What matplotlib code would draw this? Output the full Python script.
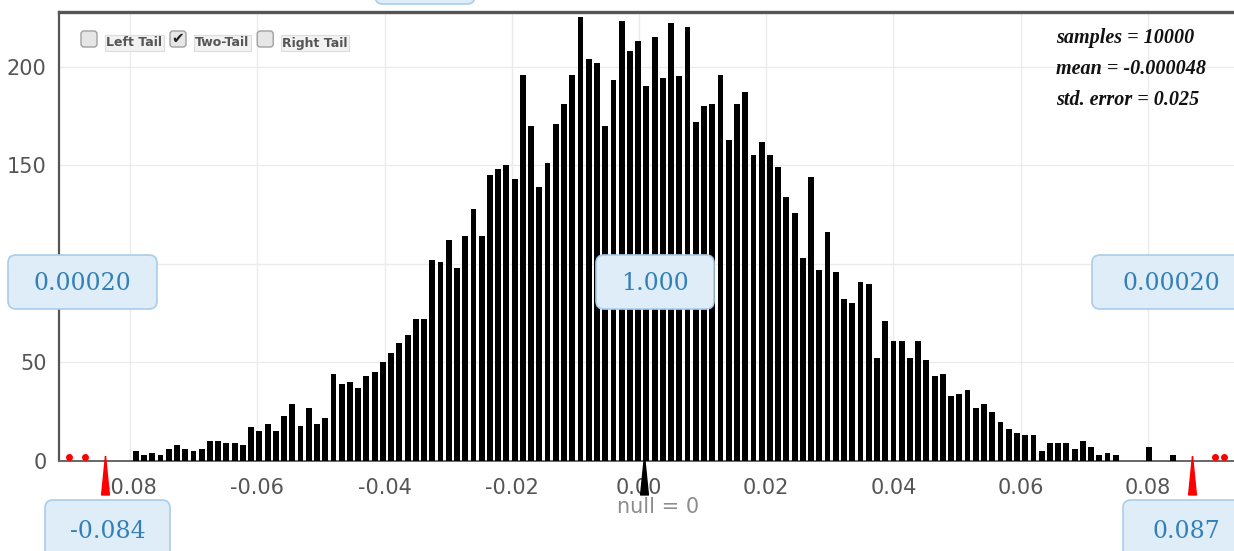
import numpy as np
import matplotlib.pyplot as plt
from matplotlib.patches import FancyBboxPatch
from matplotlib.transforms import IdentityTransform

# bar heights of the randomization dotplot (one bar per bin, left to right)
counts = [5, 3, 4, 3, 6, 8, 6, 5,
          6, 10, 10, 9, 9, 8, 17, 15, 19, 15,
          23, 29, 18, 27, 19, 22, 44, 39, 40, 37,
          43, 45, 50, 55, 60, 64, 72, 72, 102, 101,
          112, 98, 114, 128, 114, 145, 148, 150, 143, 196,
          170, 139, 151, 171, 181, 196, 225, 204, 202, 170,
          193, 223, 208, 213, 190, 215, 194, 222, 195, 220,
          172, 180, 181, 196, 163, 181, 187, 155, 162, 155,
          149, 134, 126, 103, 144, 97, 116, 96, 82, 80,
          91, 90, 52, 71, 61, 61, 52, 61, 51, 43,
          44, 33, 34, 36, 27, 29, 25, 20, 16, 14,
          13, 13, 5, 9, 9, 9, 6, 10, 7, 3,
          4, 3, 0, 0, 0, 7, 0, 0, 3]
bin_start = -0.07912
bin_width = 0.0012948

tail_x = [-0.0897, -0.0871, 0.0906, 0.0919]
tail_counts = [1, 1, 1, 1]
cutoffs = [-0.084, 0.087]
cutoff_labels = ['-0.084', '0.087']
null_value = 0.0008
prop_labels = ['0.00020', '1.000', '0.00020']
stats_lines = ['samples = 10000', 'mean = -0.000048', 'std. error = 0.025']
xticks = [-0.08, -0.06, -0.04, -0.02, 0.0, 0.02, 0.04, 0.06, 0.08]
xtick_labels = ['-0.08', '-0.06', '-0.04', '-0.02', '0.00', '0.02', '0.04', '0.06', '0.08']
yticks = [0, 50, 100, 150, 200]
tail_names = ['Left Tail', 'Two-Tail', 'Right Tail']
tail_checked = [False, True, False]

W, H = 1234, 551
fig = plt.figure(figsize=(W / 100, H / 100), dpi=100)
ax = fig.add_axes([59 / W, 1 - 461 / H, (W - 59) / W, (461 - 12) / H])

centers = bin_start + bin_width * np.arange(len(counts))
ax.bar(centers, counts, width=0.00092, color='black', zorder=3)
ax.scatter(tail_x, np.array(tail_counts) + 1, s=16, color='red', zorder=4, clip_on=False)

tri = [(0, 1), (-0.2, -1), (0.2, -1), (0, 1)]
ax.plot(cutoffs, [-7.2, -7.2], linestyle='none', marker=tri, markersize=28,
        color='red', clip_on=False, zorder=5)
ax.plot([null_value], [-7.2], linestyle='none', marker=tri, markersize=28,
        color='black', clip_on=False, zorder=5)

ax.set_xlim(-0.0912, 0.09355)
ax.set_ylim(0, 227.7)
ax.set_xticks(xticks)
ax.set_xticklabels(xtick_labels)
ax.set_yticks(yticks)
ax.tick_params(length=0, labelsize=15, labelcolor='#555555')
ax.tick_params(axis='x', pad=12)
ax.tick_params(axis='y', pad=9)
ax.grid(color='#ebebeb', linewidth=1, zorder=0)
ax.set_axisbelow(True)
ax.spines['right'].set_visible(False)
ax.spines['top'].set_linewidth(2.4)
ax.spines['top'].set_color('#555555')
ax.spines['left'].set_linewidth(1.6)
ax.spines['left'].set_color('#555555')
ax.spines['bottom'].set_linewidth(1.4)
ax.spines['bottom'].set_color('#666666')

px = IdentityTransform()


def box(x0, y0, x1, y1, text=None):
    p = FancyBboxPatch((x0, H - y1), x1 - x0, y1 - y0,
                       boxstyle='round,pad=0,rounding_size=8',
                       fc='#dfedf9', ec='#a9cdea', lw=1.2, transform=px, zorder=10)
    fig.add_artist(p)
    if text:
        fig.text((x0 + x1) / 2, H - (y0 + y1) / 2 - 1, text, transform=px,
                 ha='center', va='center', fontsize=17, color='#3280b6',
                 family='DejaVu Serif', zorder=11)


box(375, -40, 475, 4)
box(8, 255, 157, 309, prop_labels[0])
box(596, 255, 714, 309, prop_labels[1])
box(1092, 255, 1250, 309, prop_labels[2])
box(45, 500, 170, 560, cutoff_labels[0])
box(1123, 500, 1250, 560, cutoff_labels[1])

fig.text(658, H - 507, 'null = 0', transform=px, ha='center', va='center',
         fontsize=15, color='#8c8c8c')

for i, line in enumerate(stats_lines):
    fig.text(1056, H - (38 + 31 * i), line, transform=px, ha='left', va='center',
             fontsize=14.5, style='italic', weight='bold', family='Liberation Serif',
             color='#111111')

# tail selection checkboxes
x = 81
for name, checked in zip(tail_names, tail_checked):
    cb = FancyBboxPatch((x, H - 47), 16, 16, boxstyle='round,pad=0,rounding_size=3',
                        fc='#e6e6e6', ec='#a0a0a0', lw=1, transform=px, zorder=10)
    fig.add_artist(cb)
    if checked:
        fig.text(x + 8, H - 39, '\u2714', transform=px, ha='center', va='center',
                 fontsize=11, color='#222222', family='DejaVu Sans', zorder=12)
    t = fig.text(x + 25, H - 43, name, transform=px, ha='left', va='center',
                 fontsize=9, weight='bold', color='#555555', zorder=11,
                 bbox=dict(boxstyle='square,pad=0.12', fc='#f2f2f2', ec='#dddddd', lw=0.8))
    fig.canvas.draw()
    bb = t.get_window_extent()
    x = bb.x1 + 8

fig.savefig('out.png', dpi=100)
